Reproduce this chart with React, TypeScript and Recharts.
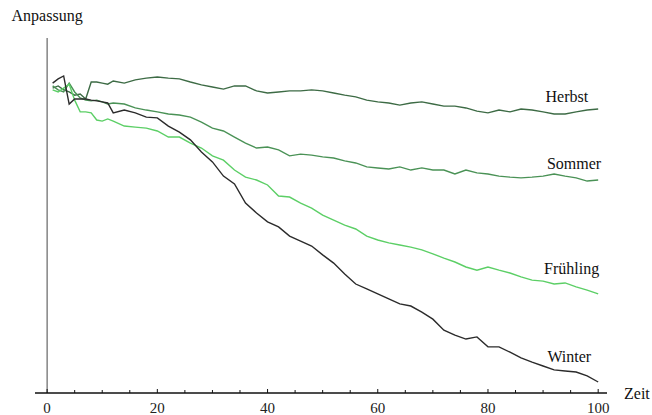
import React from "react";
import { LineChart, Line, XAxis, YAxis, ReferenceLine, Label } from "recharts";

// Zeit values (denser at the start where the curves jump around)
const zeit = [1, 2, 3, 4, 5, 6, 7, 8, 9, 10, 11, 12,
  14, 16, 18, 20, 22, 24, 26, 28, 30, 32, 34, 36, 38, 40, 42, 44, 46, 48, 50,
  52, 54, 56, 58, 60, 62, 64, 66, 68, 70, 72, 74, 76, 78, 80, 82, 84, 86, 88, 90,
  92, 94, 96, 98, 100];

const herbst = [85.9, 86.5, 85.4, 84.8, 83.9, 84.2, 82.8, 87.6, 87.6, 87.3, 87.0, 87.9,
  87.3, 88.2, 88.7, 89.0, 88.7, 88.5, 87.6, 86.8, 86.2, 85.6, 86.5, 86.5, 85.1, 84.5,
  84.8, 85.1, 85.1, 85.4, 85.1, 84.5, 83.9, 83.4, 82.5, 82.0, 81.7, 81.1, 81.7, 82.0, 81.4,
  80.8, 80.8, 80.3, 79.4, 78.9, 79.7, 79.2, 80.0, 79.7, 79.2, 78.6, 78.6, 79.2, 79.7, 80.0];

const sommer = [86.5, 85.4, 84.8, 87.3, 84.8, 83.1, 82.5, 82.3, 82.5, 82.0, 81.4, 81.7,
  81.4, 80.3, 79.7, 79.2, 78.6, 78.3, 77.7, 76.3, 74.6, 73.8, 72.1, 70.4, 69.0, 69.3,
  68.5, 66.8, 67.3, 67.0, 66.5, 66.2, 65.4, 64.8, 63.7, 63.4, 63.1, 63.7, 62.8, 63.4, 62.8,
  62.8, 61.7, 62.8, 62.0, 61.7, 61.1, 60.8, 60.6, 60.8, 61.1, 61.7, 61.1, 60.6, 59.7, 60.0];

const fruehling = [85.4, 84.8, 85.9, 87.0, 82.5, 79.2, 79.2, 78.9, 76.9, 76.6, 77.2, 76.6,
  75.2, 74.9, 74.6, 73.8, 72.1, 72.1, 70.4, 69.0, 66.8, 65.6, 62.8, 60.8, 60.0, 58.6,
  55.5, 55.2, 53.5, 52.1, 50.1, 48.7, 47.3, 46.2, 44.2, 43.1, 42.3, 41.7, 41.1, 40.3, 39.2,
  38.0, 36.9, 35.5, 34.6, 35.5, 34.6, 33.8, 32.7, 31.8, 31.5, 30.7, 31.0, 29.9, 29.0, 27.9];

const winter = [87.3, 88.5, 89.3, 81.4, 82.8, 82.8, 82.8, 82.5, 82.3, 82.0, 81.7, 78.9,
  79.7, 78.9, 77.7, 77.5, 75.2, 73.5, 71.3, 67.9, 65.1, 61.1, 58.9, 53.5, 50.7, 48.2,
  46.8, 44.2, 42.8, 41.4, 38.9, 36.6, 33.5, 30.7, 29.3, 27.9, 26.5, 25.1, 24.5, 22.8, 20.8,
  17.7, 16.3, 15.2, 15.8, 13.0, 13.0, 11.5, 9.9, 8.7, 7.6, 6.5, 6.2, 5.9, 4.8, 3.1];

const xTicks = [0, 5, 10, 15, 20, 25, 30, 35, 40, 45, 50, 55, 60, 65, 70, 75, 80, 85, 90, 95, 100];

const data = zeit.map((t, i) => ({
  t,
  herbst: herbst[i],
  sommer: sommer[i],
  fruehling: fruehling[i],
  winter: winter[i],
}));

const FONT = "'Liberation Serif', 'DejaVu Serif', serif";
const textStyle = { fontFamily: FONT };

const series = [
  { key: "herbst", name: "Herbst", color: "#3d6b45", dx: -10, dy: -7 },
  { key: "sommer", name: "Sommer", color: "#4a9256", dx: 3, dy: -11 },
  { key: "fruehling", name: "Frühling", color: "#5ccf66", dx: 1, dy: -20 },
  { key: "winter", name: "Winter", color: "#2b2b2b", dx: -7, dy: -20 },
];

const renderTick = (props: any) => {
  const { x, y, payload } = props;
  const major = payload.value % 20 === 0;
  return (
    <g>
      <line x1={x} x2={x} y1={y} y2={y - (major ? 4 : 3)} stroke="#111" />
      {major && (
        <text x={x} y={y + 20} textAnchor="middle" style={textStyle} fontSize={15} fill="#222">
          {payload.value}
        </text>
      )}
    </g>
  );
};

const endLabel = (name: string, dx: number, dy: number) => (props: any) => {
  const { x, y, index } = props;
  if (index !== zeit.length - 1) return null;
  return (
    <text x={x + dx} y={y + dy} textAnchor="end" style={textStyle} fontSize={16} fill="#111">
      {name}
    </text>
  );
};

export default function App() {
  return (
    <div style={{ position: "absolute", left: 0, top: 0, background: "#fff", fontFamily: FONT }}>
      <LineChart
        width={652}
        height={415}
        data={data}
        margin={{ top: 38, right: 45, bottom: 0, left: 35 }}
        style={textStyle}
      >
        <XAxis
          dataKey="t"
          type="number"
          domain={[-2.2, 101.6]}
          allowDataOverflow
          ticks={xTicks}
          interval={0}
          tickSize={0}
          tickMargin={0}
          tickLine={false}
          tick={renderTick}
          axisLine={{ stroke: "#111" }}
          height={22}
        />
        <YAxis hide domain={[0, 100]} allowDataOverflow />
        <ReferenceLine x={0} stroke="#666" strokeWidth={1.2}>
          <Label value="Anpassung" position="top" offset={17} style={textStyle} fontSize={16} fill="#111" />
        </ReferenceLine>
        <ReferenceLine y={0} stroke="#111">
          <Label value="Zeit" position="right" offset={17} style={textStyle} fontSize={16} fill="#111" />
        </ReferenceLine>
        {series.map((s) => (
          <Line
            key={s.key}
            dataKey={s.key}
            type="linear"
            stroke={s.color}
            strokeWidth={1.4}
            dot={false}
            isAnimationActive={false}
            label={endLabel(s.name, s.dx, s.dy)}
          />
        ))}
      </LineChart>
    </div>
  );
}
